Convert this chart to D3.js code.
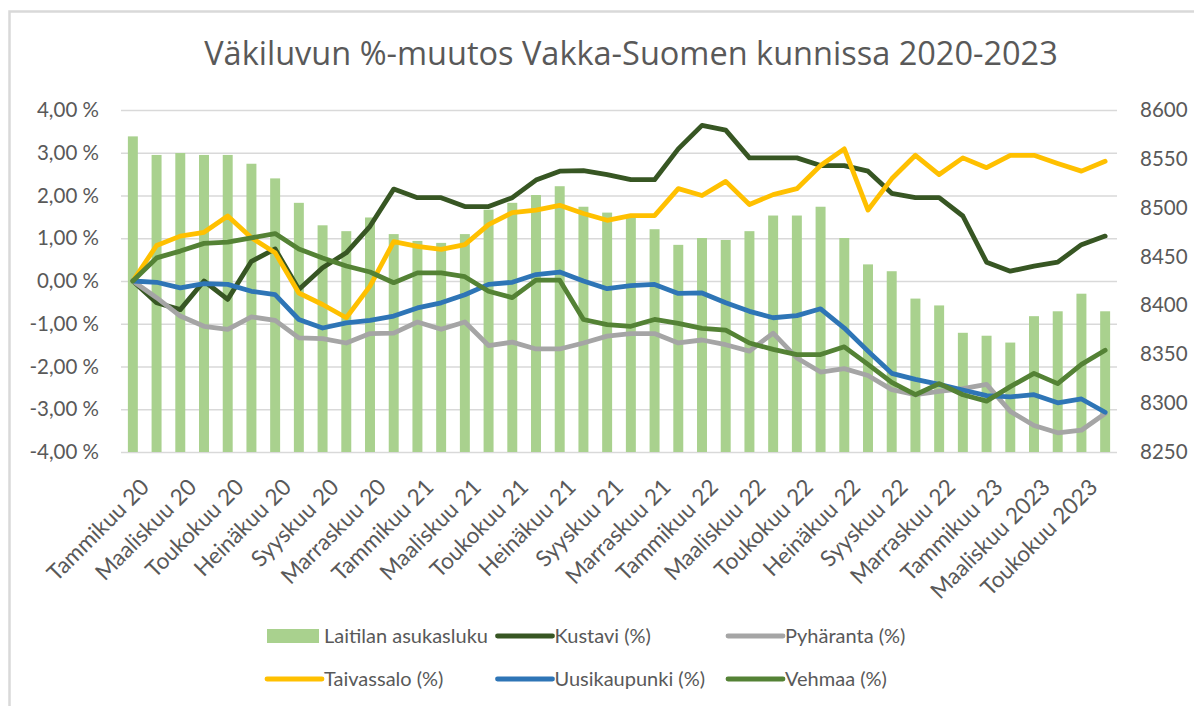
<!DOCTYPE html>
<html>
<head>
<meta charset="utf-8">
<script src="https://cdn.jsdelivr.net/npm/d3@7"></script>
<style>
  body { margin: 0; background: #fff; }
  svg text { font-family: Lato, "Noto Sans", sans-serif; fill: #595959; }
</style>
</head>
<body>
<div id="chart"></div>
<script>
// kuukaudet tammikuu 2020 - kesäkuu 2023
const months = [
  "Tammikuu 20", "Helmikuu 20", "Maaliskuu 20", "Huhtikuu 20", "Toukokuu 20", "Kesäkuu 20",
  "Heinäkuu 20", "Elokuu 20", "Syyskuu 20", "Lokakuu 20", "Marraskuu 20", "Joulukuu 20",
  "Tammikuu 21", "Helmikuu 21", "Maaliskuu 21", "Huhtikuu 21", "Toukokuu 21", "Kesäkuu 21",
  "Heinäkuu 21", "Elokuu 21", "Syyskuu 21", "Lokakuu 21", "Marraskuu 21", "Joulukuu 21",
  "Tammikuu 22", "Helmikuu 22", "Maaliskuu 22", "Huhtikuu 22", "Toukokuu 22", "Kesäkuu 22",
  "Heinäkuu 22", "Elokuu 22", "Syyskuu 22", "Lokakuu 22", "Marraskuu 22", "Joulukuu 22",
  "Tammikuu 23", "Helmikuu 2023", "Maaliskuu 2023", "Huhtikuu 2023", "Toukokuu 2023", "Kesäkuu 2023"
];

// Laitilan asukasluku (oikea akseli)
const laitila = [
  8573, 8554, 8556, 8554, 8554, 8545, 8530, 8505, 8482, 8476, 8490, 8473,
  8466, 8464, 8473, 8498, 8505, 8513, 8522, 8501, 8495, 8491, 8478, 8462,
  8469, 8467, 8476, 8492, 8492, 8501, 8469, 8442, 8435, 8407, 8400, 8372,
  8369, 8362, 8389, 8394, 8412, 8394
];

// %-muutos (vasen akseli)
const kustavi = [
  0, -0.51, -0.67, 0.0, -0.43, 0.46, 0.75, -0.2, 0.31, 0.66, 1.28, 2.15,
  1.95, 1.95, 1.74, 1.74, 1.95, 2.36, 2.57, 2.58, 2.49, 2.37, 2.37, 3.09,
  3.64, 3.53, 2.88, 2.88, 2.88, 2.70, 2.70, 2.57, 2.05, 1.95, 1.95, 1.52,
  0.44, 0.23, 0.35, 0.44, 0.85, 1.05
];
const pyharanta = [
  0, -0.39, -0.82, -1.06, -1.13, -0.84, -0.92, -1.33, -1.35, -1.45, -1.23, -1.22,
  -0.96, -1.13, -0.96, -1.51, -1.43, -1.59, -1.59, -1.45, -1.29, -1.23, -1.23, -1.45,
  -1.38, -1.49, -1.64, -1.22, -1.80, -2.13, -2.05, -2.21, -2.54, -2.66, -2.58, -2.52,
  -2.42, -3.05, -3.38, -3.55, -3.49, -3.10
];
const taivassalo = [
  0, 0.83, 1.05, 1.14, 1.52, 1.01, 0.66, -0.28, -0.55, -0.86, -0.12, 0.92,
  0.81, 0.74, 0.85, 1.32, 1.60, 1.66, 1.77, 1.58, 1.42, 1.53, 1.53, 2.16,
  2.00, 2.33, 1.79, 2.02, 2.16, 2.70, 3.09, 1.66, 2.39, 2.94, 2.49, 2.88,
  2.65, 2.94, 2.94, 2.75, 2.57, 2.80
];
const uusikaupunki = [
  0, -0.03, -0.16, -0.06, -0.08, -0.24, -0.32, -0.90, -1.10, -0.98, -0.92, -0.82,
  -0.63, -0.51, -0.32, -0.08, -0.03, 0.15, 0.21, 0.0, -0.18, -0.11, -0.08, -0.29,
  -0.28, -0.51, -0.71, -0.86, -0.81, -0.65, -1.10, -1.64, -2.16, -2.30, -2.42, -2.55,
  -2.68, -2.71, -2.66, -2.85, -2.76, -3.07
];
const vehmaa = [
  0, 0.54, 0.70, 0.88, 0.91, 1.01, 1.11, 0.75, 0.54, 0.35, 0.21, -0.04,
  0.19, 0.19, 0.10, -0.24, -0.39, 0.02, 0.02, -0.90, -1.02, -1.06, -0.90, -0.99,
  -1.11, -1.15, -1.45, -1.60, -1.72, -1.72, -1.54, -1.95, -2.37, -2.66, -2.40, -2.66,
  -2.81, -2.47, -2.16, -2.40, -1.95, -1.62
];

const leftTicks = [4, 3, 2, 1, 0, -1, -2, -3, -4];
const leftTickLabels = ["4,00 %", "3,00 %", "2,00 %", "1,00 %", "0,00 %", "-1,00 %", "-2,00 %", "-3,00 %", "-4,00 %"];
const rightTicks = [8600, 8550, 8500, 8450, 8400, 8350, 8300, 8250];

const series = [
  { name: "Kustavi (%)", values: kustavi, color: "#375623" },
  { name: "Pyhäranta (%)", values: pyharanta, color: "#A5A5A5" },
  { name: "Taivassalo (%)", values: taivassalo, color: "#FFC000" },
  { name: "Uusikaupunki (%)", values: uusikaupunki, color: "#2E75B6" },
  { name: "Vehmaa (%)", values: vehmaa, color: "#548235" }
];

const width = 1194, height = 706;
const plot = { left: 121, right: 1117, top: 110, bottom: 452 };

const svg = d3.select("#chart").append("svg")
  .attr("width", width).attr("height", height);

// kehys
svg.append("path")
  .attr("d", `M9.5,${height} V11.5 H${width}`)
  .attr("fill", "none").attr("stroke", "#d9d9d9").attr("stroke-width", 2.5);

// otsikko
svg.append("text")
  .attr("x", 631).attr("y", 65)
  .attr("text-anchor", "middle")
  .style("font-family", "'Open Sans', 'Noto Sans', sans-serif")
  .style("font-size", "32.5px")
  .text("Väkiluvun %-muutos Vakka-Suomen kunnissa 2020-2023");

const x = d3.scaleBand()
  .domain(months)
  .range([plot.left, plot.right])
  .paddingInner(0.58)
  .paddingOuter(0.29);

const yLeft = d3.scaleLinear().domain([-4, 4]).range([plot.bottom, plot.top]);
const yRight = d3.scaleLinear().domain([8250, 8600]).range([plot.bottom, plot.top]);

// ruudukko
svg.append("g")
  .attr("transform", `translate(${plot.left},0)`)
  .call(d3.axisLeft(yLeft).tickValues(leftTicks).tickSize(-(plot.right - plot.left)).tickFormat(""))
  .call(g => g.select(".domain").remove())
  .call(g => g.selectAll("line").attr("stroke", "#d9d9d9").attr("stroke-width", 1.5));

// vasen akseli
svg.append("g")
  .attr("transform", `translate(${plot.left},0)`)
  .call(d3.axisLeft(yLeft).tickValues(leftTicks).tickSize(0).tickPadding(22)
    .tickFormat((d, i) => leftTickLabels[i]))
  .call(g => g.select(".domain").remove())
  .call(g => g.selectAll("text").style("font-size", "20.5px").attr("fill", "#595959"));

// oikea akseli
svg.append("g")
  .attr("transform", `translate(${plot.right},0)`)
  .call(d3.axisRight(yRight).tickValues(rightTicks).tickSize(0).tickPadding(23).tickFormat(d3.format("d")))
  .call(g => g.select(".domain").remove())
  .call(g => g.selectAll("text").style("font-size", "20.5px").attr("fill", "#595959"));

// x-akseli, joka toinen kuukausi
const xAxis = svg.append("g")
  .attr("transform", `translate(0,${plot.bottom})`)
  .call(d3.axisBottom(x).tickValues(months.filter((d, i) => i % 2 === 0)).tickSize(0).tickFormat(d => d));
xAxis.select(".domain").remove();
xAxis.selectAll("text")
  .style("font-size", "22.5px")
  .attr("fill", "#595959")
  .attr("text-anchor", "end")
  .attr("dy", "0.35em")
  .attr("transform", "translate(12,31) rotate(-45)")
  .attr("y", 0).attr("x", 0);

// pylväät
svg.append("g")
  .selectAll("rect")
  .data(laitila)
  .enter()
  .append("rect")
  .attr("x", (d, i) => x(months[i]))
  .attr("y", d => yRight(d))
  .attr("width", x.bandwidth())
  .attr("height", d => plot.bottom - yRight(d))
  .attr("fill", "#A9D18E");

// viivat
const line = d3.line()
  .x((d, i) => x(months[i]) + x.bandwidth() / 2)
  .y(d => yLeft(d));

svg.append("g")
  .selectAll("path")
  .data(series)
  .enter()
  .append("path")
  .attr("d", d => line(d.values))
  .attr("fill", "none")
  .attr("stroke", d => d.color)
  .attr("stroke-width", 4.8)
  .attr("stroke-linejoin", "round")
  .attr("stroke-linecap", "round");

// selite
const legendItems = [
  { name: "Laitilan asukasluku", color: "#A9D18E", bar: true }
].concat(series);
const legend = svg.append("g");
legendItems.forEach((d, i) => {
  const col = i % 3, row = Math.floor(i / 3);
  const lx = 267 + col * 230.5, ly = 636 + row * 43;
  const g = legend.append("g").attr("transform", `translate(${lx},${ly})`);
  if (d.bar) {
    g.append("rect").attr("x", 0).attr("y", -7).attr("width", 52).attr("height", 14).attr("fill", d.color);
  } else {
    g.append("line").attr("x1", 0).attr("x2", 55).attr("y1", 0).attr("y2", 0)
      .attr("stroke", d.color).attr("stroke-width", 4.8).attr("stroke-linecap", "round");
  }
  g.append("text").attr("x", 57).attr("y", 0).attr("dy", "0.35em")
    .style("font-size", "20px").text(d.name);
});
</script>
</body>
</html>
